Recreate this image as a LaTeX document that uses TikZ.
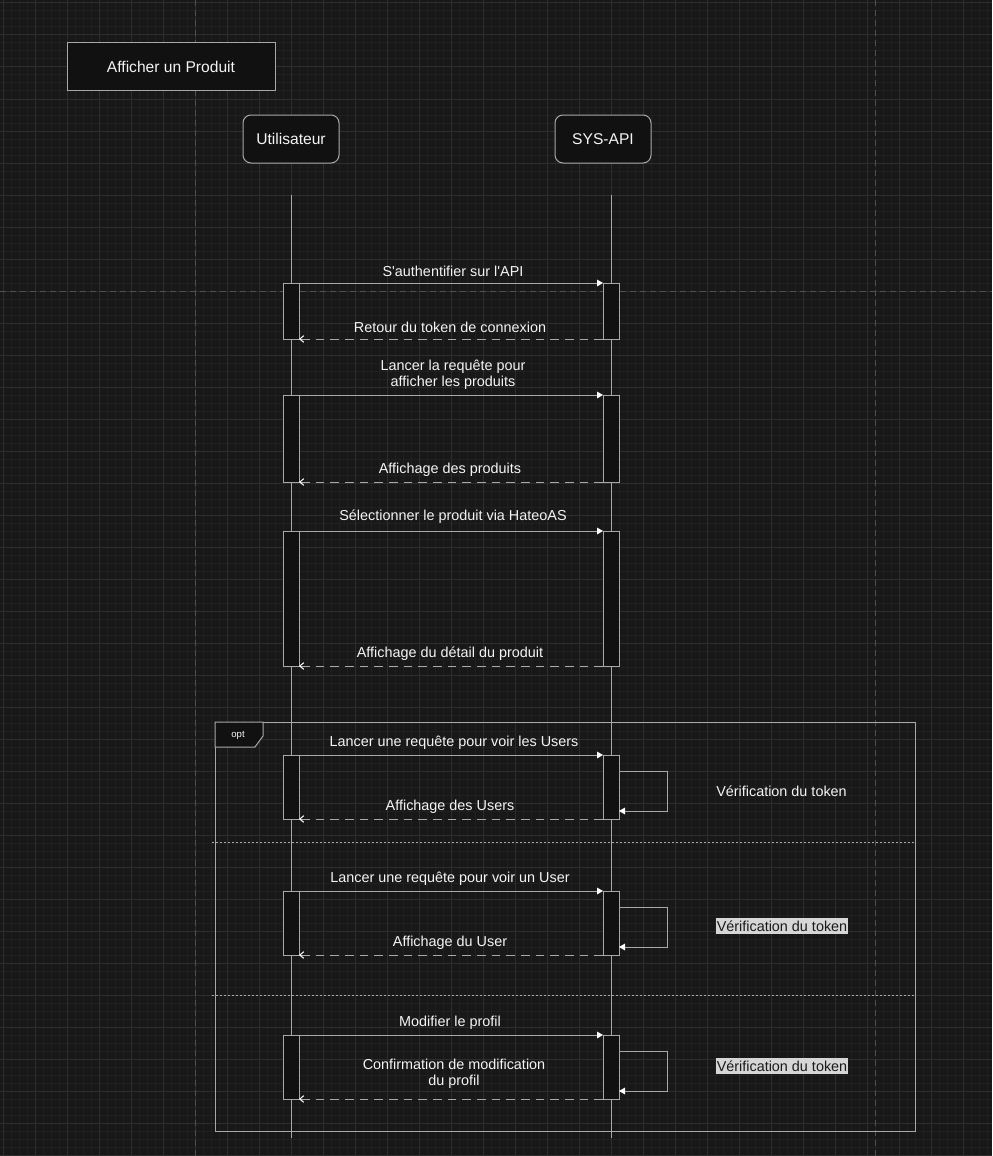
\documentclass[tikz,border=0pt]{standalone}
\usepackage{fontspec}
\setmainfont{Liberation Sans}
\usetikzlibrary{arrows.meta}
\definecolor{bgc}{HTML}{181818}
\definecolor{gridminor}{HTML}{202020}
\definecolor{gridmajor}{HTML}{2E2E2E}
\definecolor{pagec}{HTML}{505050}
\definecolor{boxfill}{HTML}{111111}
\definecolor{linec}{HTML}{A8A8A8}
\definecolor{txtc}{HTML}{F4F4F4}
\definecolor{hilite}{HTML}{D6D6D6}
\definecolor{hitext}{HTML}{1A1A1A}

\begin{document}
\begin{tikzpicture}[x=0.75pt,y=-0.75pt,
  every node/.style={font=\fontsize{10.8}{12}\selectfont, text=txtc},
  actor/.style={draw=linec, fill=boxfill, rounded corners=6pt, minimum width=72pt,
    minimum height=36pt, line width=0.75pt, inner sep=0,
    font=\fontsize{11.7}{13}\selectfont},
  titlebox/.style={draw=linec, fill=boxfill, minimum width=156pt, minimum height=36pt,
    line width=0.75pt, inner sep=0, font=\fontsize{11.7}{13}\selectfont},
  act/.style={draw=linec, fill=boxfill, minimum width=12pt, line width=0.75pt,
    inner sep=0, outer sep=0},
  lifeline/.style={draw=linec, line width=0.75pt},
  msg/.style={draw=linec, line width=0.75pt,
    -{Triangle[length=4.5pt,width=5pt,color=white]}},
  ret/.style={draw=linec, line width=0.75pt, dash pattern=on 6.5pt off 4.5pt,
    -{Straight Barb[length=3pt,width=5pt,color=white]}},
  lbl/.style={inner sep=0, align=center},
  note/.style={inner sep=0},
  hinote/.style={fill=hilite, text=hitext, inner xsep=0.8pt, inner ysep=0,
    minimum height=12pt},
  sep/.style={draw=linec, line width=0.75pt, dash pattern=on 1.5pt off 1.5pt},
  pageline/.style={draw=pagec, line width=0.75pt, dash pattern=on 4.5pt off 3pt},
]
% canvas and grid
\fill[bgc] (0,0) rectangle (992,1156);
\useasboundingbox (0,0) rectangle (992,1156);
\begin{scope}
\clip (0,0) rectangle (992,1156);
\foreach \i in {0,...,123} \draw[gridminor, line width=0.75pt] ({3+8*\i},0) -- ({3+8*\i},1156);
\foreach \j in {0,...,144} \draw[gridminor, line width=0.75pt] (0,{3+8*\j}) -- (992,{3+8*\j});
\foreach \x in {3,35,...,987} \draw[gridmajor, line width=0.75pt] (\x,0) -- (\x,1156);
\foreach \y in {3,35,...,1155} \draw[gridmajor, line width=0.75pt] (0,\y) -- (992,\y);
% page boundaries
\draw[pageline] (195,0) -- (195,1156);
\draw[pageline] (875,0) -- (875,1156);
\draw[pageline] (0,291) -- (992,291);
\end{scope}

% title and participants
\node[titlebox] (title) at (171,67) {Afficher un Produit};
\node[actor] (user) at (291,139) {Utilisateur};
\node[actor] (api) at (603,139) {SYS-API};

% lifelines
\coordinate (uTop) at (291,195);
\coordinate (uBot) at (291,1138);
\coordinate (sTop) at (611,195);
\coordinate (sBot) at (611,1138);
\draw[lifeline] (uTop) -- (uBot);
\draw[lifeline] (sTop) -- (sBot);

% optional fragment
\draw[draw=linec, line width=0.75pt] (215,722) rectangle (915,1131);
\draw[draw=linec, fill=boxfill, line width=0.75pt]
  (215,722) -- (263,722) -- (263,736) -- (255,747) -- (215,747) -- cycle;
\node[font=\fontsize{7.2}{8}\selectfont, inner sep=0] (optlbl) at (238,735) {opt};
\draw[sep] (212,842) -- (915,842);
\draw[sep] (212,995) -- (915,995);

% activations
\node[act, minimum height=42pt]     (u1) at (291,311) {};
\node[act, minimum height=42pt]     (s1) at (611,311) {};
\node[act, minimum height=65.25pt]  (u2) at (291,438.5) {};
\node[act, minimum height=65.25pt]  (s2) at (611,438.5) {};
\node[act, minimum height=101.25pt] (u3) at (291,598.5) {};
\node[act, minimum height=101.25pt] (s3) at (611,598.5) {};
\node[act, minimum height=48pt]     (u4) at (291,787) {};
\node[act, minimum height=48pt]     (s4) at (611,787) {};
\node[act, minimum height=48pt]     (u5) at (291,923) {};
\node[act, minimum height=48pt]     (s5) at (611,923) {};
\node[act, minimum height=48pt]     (u6) at (291,1067) {};
\node[act, minimum height=48pt]     (s6) at (611,1067) {};

% messages
\draw[msg] (u1.north east) -- (s1.north west);
\draw[ret] (s1.south west) -- (u1.south east);
\draw[msg] (u2.north east) -- (s2.north west);
\draw[ret] (s2.south west) -- (u2.south east);
\draw[msg] (u3.north east) -- (s3.north west);
\draw[ret] (s3.south west) -- (u3.south east);
\draw[msg] (u4.north east) -- (s4.north west);
\draw[ret] (s4.south west) -- (u4.south east);
\draw[msg] (u5.north east) -- (s5.north west);
\draw[ret] (s5.south west) -- (u5.south east);
\draw[msg] (u6.north east) -- (s6.north west);
\draw[ret] (s6.south west) -- (u6.south east);

% message labels
\node[lbl] (m1) at (453,271) {S\textquotesingle authentifier sur l\textquotesingle API};
\node[lbl] (r1) at (450,327) {Retour du token de connexion};
\node[lbl] (m2) at (453,375) {Lancer la requête pour\\afficher les produits};
\node[lbl] (r2) at (450,470) {Affichage des produits};
\node[lbl] (m3) at (453,517) {Sélectionner le produit via HateoAS};
\node[lbl] (r3) at (450,654) {Affichage du détail du produit};
\node[lbl] (m4) at (454,743) {Lancer une requête pour voir les Users};
\node[lbl] (r4) at (450,807) {Affichage des Users};
\node[lbl] (m5) at (450,879) {Lancer une requête pour voir un User};
\node[lbl] (r5) at (450,943) {Affichage du User};
\node[lbl] (m6) at (450,1023) {Modifier le profil};
\node[lbl] (r6) at (454,1074) {Confirmation de modification\\du profil};

% token checks (self calls)
\coordinate (c4t) at (667,771);
\coordinate (c4b) at (667,811);
\coordinate (c5t) at (667,907);
\coordinate (c5b) at (667,947);
\coordinate (c6t) at (667,1051);
\coordinate (c6b) at (667,1091);
\draw[msg] (s4.east |- c4t) -- (c4t) -- (c4b) -- (s4.east |- c4b);
\draw[msg] (s5.east |- c5t) -- (c5t) -- (c5b) -- (s5.east |- c5b);
\draw[msg] (s6.east |- c6t) -- (c6t) -- (c6b) -- (s6.east |- c6b);
\node[note]   (v4) at (781.5,791) {Vérification du token};
\node[hinote] (v5) at (782,926)   {Vérification du token};
\node[hinote] (v6) at (782,1066)  {Vérification du token};
\end{tikzpicture}
\end{document}
